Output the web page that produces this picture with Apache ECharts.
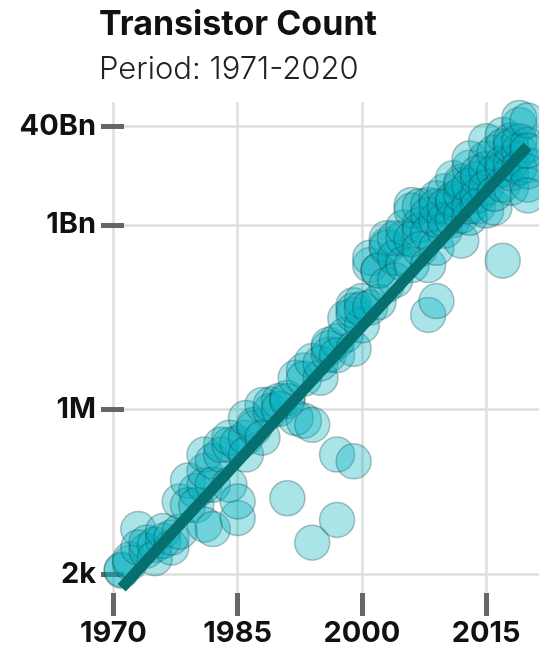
<!DOCTYPE html>
<html>
<head>
<meta charset="utf-8">
<script src="https://cdn.jsdelivr.net/npm/echarts@6/dist/echarts.min.js"></script>
<style>
  html, body { margin: 0; padding: 0; background: #fff; }
  #chart { width: 539px; height: 648px; }
</style>
</head>
<body>
<div id="chart"></div>
<script>
const chipYears = [1971, 1972, 1973, 1974, 1975, 1976, 1977, 1978, 1979, 1980,
  1981, 1982, 1983, 1984, 1985, 1986, 1987, 1988, 1989, 1990,
  1991, 1992, 1993, 1994, 1995, 1996, 1997, 1998, 1999, 2000,
  2001, 2002, 2003, 2004, 2005, 2006, 2007, 2008, 2009, 2010,
  2011, 2012, 2013, 2014, 2015, 2016, 2017, 2018, 2019, 2020]
const chipCounts = [
  [2300, 2400], [3100, 3500], [11000, 5500], [4900, 6600], [6100, 3700],
  [7100, 10200], [5500, 8000], [10000, 31000], [68000, 27000], [46000, 27000],
  [57000, 13000, 97000, 180000], [140000, 58000, 11000], [180000, 260000], [260000, 58000, 340000], [16600, 31000, 275000],
  [340000, 180000, 710000], [490000, 550000], [340000, 1160000], [930000, 1180000], [1350000, 1000000],
  [35000, 1500000, 1350000], [710000, 3200000], [640000, 4200000, 3100000], [6000000, 550000, 6600], [3200000, 5500000],
  [9800000, 7600000, 11000000], [12700000, 180000, 15500, 7500000], [16000000, 30000000], [34000000, 49000000, 140000, 40000000, 9500000], [23000000, 57000000, 42000000],
  [220000000, 290000000, 45000000], [178000000, 180000000, 55000000], [470000000, 600000000, 420000000, 105000000], [290000000, 600000000, 125000000], [600000000, 230000000, 900000000],
  [2.1e9, 2.2e8, 5.8e8, 1.7e9], [1e9, 8e8, 4e8, 2e9], [2.1e9, 1.45e9, 2.2e8, 3.4e7, 7.3e8], [2.7e9, 4.2e8, 5.7e7, 1.2e9, 2e9], [3.5e9, 8e8, 2e9, 1.2e9],
  [5.7e9, 2.3e9, 1.2e9, 2.6e9], [4.4e9, 5.5e8, 1.4e9, 3.1e9, 5e9], [8.5e9, 1.2e10, 1.3e9, 4.3e9, 2e9], [5.6e9, 3e9, 7e9, 2e9], [1.2e10, 2.3e10, 1.7e9, 8e9, 4e9],
  [1.9e9, 7.2e9, 1.5e10, 3.2e9], [2.9e10, 4.5e9, 2.6e8, 1.9e10, 8e9, 1e10], [2.36e10, 6.9e9, 1e10, 1.9e10, 4e9], [4.2e10, 5.5e10, 1.6e10, 8.5e9, 2.3e10], [2e10, 9.3e9, 4.5e9, 7.4e9, 3e9, 5e10, 1.6e10]
]

// ends of the trend line
const trendYears = [1971, 2020]
const trendCounts = [1220, 1.9e10]

const xTicks = [1970, 1985, 2000, 2015]
const yTickValues = [2e3, 1e6, 1e9, 4e10]
const yTickLabels = ['2k', '1M', '1Bn', '40Bn']

const font = 'Inter, Roboto, sans-serif'

let points = []
chipYears.forEach(function (year, i) {
  chipCounts[i].forEach(function (c) {
    points.push([year, Math.log10(c)])
  })
})
let trend = trendYears.map(function (y, i) { return [y, Math.log10(trendCounts[i])] })
let yTicksLog = yTickValues.map(function (v) { return Math.log10(v) })

let chart = echarts.init(document.getElementById('chart'))
chart.setOption({
  animation: false,
  backgroundColor: '#fff',
  title: [{
    text: 'Transistor Count',
    left: 99, top: 8, padding: 0,
    textStyle: { fontFamily: font, fontSize: 34, fontWeight: 'bold', color: '#111' }
  }, {
    text: 'Period: 1971-2020',
    left: 99, top: 54, padding: 0,
    textStyle: { fontFamily: font, fontSize: 31, fontWeight: 300, color: '#222' }
  }],
  grid: { left: 101, top: 102, width: 439, height: 491, outerBoundsMode: 'none' },
  xAxis: {
    type: 'value',
    min: 1968.5, max: 2021.5,
    axisLine: { show: false },
    axisTick: {
      show: true, customValues: xTicks, length: 23, inside: false,
      lineStyle: { color: '#666', width: 5 }
    },
    axisLabel: {
      customValues: xTicks, margin: 26,
      fontFamily: font, fontSize: 29, fontWeight: 'bold', color: '#111',
      formatter: function (v) { return String(v) }
    },
    splitLine: { show: true, lineStyle: { color: '#dedede', width: 2.5 } }
  },
  yAxis: {
    type: 'value',
    min: 3, max: 11,
    axisLine: { show: false },
    axisTick: {
      show: true, customValues: yTicksLog, length: 23, inside: true,
      lineStyle: { color: '#666', width: 5 }
    },
    axisLabel: {
      customValues: yTicksLog, margin: 5,
      fontFamily: font, fontSize: 29, fontWeight: 'bold', color: '#111',
      formatter: function (v) {
        let i = yTicksLog.findIndex(function (t) { return Math.abs(t - v) < 1e-6 })
        return i >= 0 ? yTickLabels[i] : ''
      }
    },
    splitLine: { show: true, lineStyle: { color: '#dedede', width: 2.5 } }
  },
  series: [{
    type: 'scatter',
    data: points,
    symbolSize: 35,
    clip: false,
    itemStyle: {
      color: 'rgba(0,176,190,0.42)',
      borderColor: 'rgba(20,70,72,0.4)',
      borderWidth: 1.5
    },
    z: 2
  }, {
    type: 'line',
    data: trend,
    symbol: 'none',
    lineStyle: { color: '#05706f', width: 11, cap: 'butt' },
    z: 3
  }]
})
</script>
</body>
</html>
